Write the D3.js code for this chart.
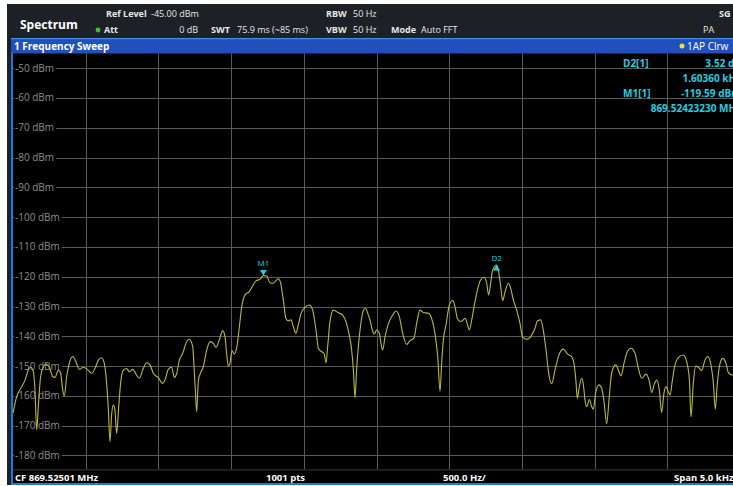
<!DOCTYPE html>
<html>
<head>
<meta charset="utf-8">
<script src="https://cdn.jsdelivr.net/npm/d3@7"></script>
<style>
  html, body { margin: 0; padding: 0; background: #ffffff; }
  svg { display: block; }
  text { font-family: "Open Sans", "Noto Sans", sans-serif; }
</style>
</head>
<body>
<svg id="chart" width="733" height="486"></svg>
<script>
// ---- instrument settings ----
const centerMHz = 869.52501;
const spanHz = 5000;
const refLevel = -45;
const levelRange = 140;          // dB shown from top to bottom of the diagram
const divHz = 500;
const sweepPoints = 1001;

// ---- level grid labels (dBm) ----
const levelTicks = [-50, -60, -70, -80, -90, -100, -110, -120, -130, -140, -150, -160, -170, -180];

// ---- trace 1: frequency offset from CF (Hz) and level (dBm) ----
const traceHz = [
  -2500,-2475,-2440,-2417,-2395,-2379,-2360,-2349,-2337,-2326,
  -2310,-2291,-2273,-2250,-2227,-2211,-2188,-2172,-2158,-2147,
  -2131,-2113,-2090,-2067,-2044,-2016,-1989,-1959,-1936,-1913,
  -1890,-1872,-1856,-1844,-1833,-1821,-1810,-1799,-1787,-1773,
  -1760,-1741,-1718,-1700,-1677,-1654,-1631,-1608,-1581,-1558,
  -1535,-1500,-1471,-1455,-1432,-1409,-1390,-1374,-1356,-1333,
  -1306,-1287,
  -1264,-1255,-1246,-1237,-1225,-1209,-1191,-1173,-1145,-1122,
  -1104,-1081,-1058,-1042,-1031,-1019,-1008,-994,-978,-962,
  -943,-927,-904,-875,-852,-829,-801,-777.7,-755,-733,
  -710,-691,-675,-659,-641,-623,-606,-588,-572,-554,
  -538,-519,-492,-462,-439,-416,-400,-377,-361,-347,
  -336,-320,-297,-263,-233,-205,-187,-171,-159,-148,
  -137,-125,-109,-91,-75,-56,
  -45,-26,-15,1,20,31,42,59,81,111,
  134,157,180,208,230,258,276,299,322,357,
  379,402,421,437,448,460,478,501,524,540,
  556,579,609,625,638,655,671,694,716,739,
  758,771,785,799,825.9,838,854,868,884,907,
  923,941,964,987,1005,1033,1067,1090,1108,1129,
  1147,1166,1186,1205,
  1228,1251,1285,1313,1342,1358,1372,1381,1395,1411,
  1423,1434,1446,1464,1480,1491,1507,1530,1549,1565,
  1583,1599,1617,1645,1663,1682,1702,1725,1750,1778,
  1801,1824,1854,1877,1893,1909,1927,1945,1961,1977,
  1991,2007,2019,2035,2053,2083,2110,2133,2152,2163,
  2179,2195,2214,2236,2259,2278,2298,2317,2330,2344,
  2363,2381,2404,2420,2443,2470,2500
];
const traceDbm = [
  -165.8,-160.3,-156.9,-154.7,-151.3,-150.4,-151.9,-158.0,-171.4,-163.6,
  -153.5,-150.2,-149.3,-150.4,-153.5,-153.8,-151.3,-152.4,-158.0,-160.0,
  -153.5,-149.1,-146.8,-148.5,-151.1,-150.4,-151.1,-152.4,-150.8,-148.0,
  -147.2,-149.1,-155.8,-164.7,-175.4,-165.9,-163.1,-164.7,-172.6,-163.6,
  -155.8,-151.3,-150.8,-151.9,-151.1,-152.7,-154.1,-151.3,-148.9,-149.6,
  -152.4,-153.9,-155.8,-154.7,-151.1,-150.4,-153.8,-152.4,-148.0,-145.7,
  -141.8,-141.0,
  -143.5,-150.2,-158.0,-165.3,-154.7,-152.2,-150.2,-145.7,-141.8,-142.4,
  -143.7,-141.2,-138.1,-140.1,-145.7,-150.0,-149.1,-144.9,-145.9,-144.0,
  -136.8,-130.1,-126.1,-125.0,-123.1,-121.4,-120.9,-119.59,-119.8,-122.0,
  -122.2,-121.3,-120.7,-122.2,-127.8,-134.0,-134.8,-134.5,-136.8,-139.0,
  -136.2,-132.3,-130.3,-129.5,-131.2,-137.9,-144.0,-145.2,-145.7,-148.9,
  -143.5,-135.1,-131.2,-132.1,-132.9,-135.9,-139.6,-144.6,-151.3,-160.6,
  -151.3,-143.5,-136.2,-131.4,-130.6,-132.9,
  -134.5,-138.4,-139.2,-137.9,-139.0,-142.4,-144.6,-140.1,-135.9,-132.9,
  -131.5,-133.4,-139.0,-142.7,-141.5,-140.6,-135.7,-131.2,-132.0,-132.3,
  -134.0,-139.0,-146.8,-158.4,-149.1,-141.2,-136.2,-129.5,-128.0,-130.1,
  -134.0,-135.1,-134.0,-135.9,-137.9,-134.5,-130.1,-124.5,-121.1,-120.2,
  -122.2,-126.1,-122.2,-117.8,-116.07,-117.8,-123.3,-128.0,-125.0,-122.2,
  -123.9,-127.8,-131.2,-135.7,-140.3,-141.0,-139.6,-137.3,-134.8,-134.5,
  -137.9,-144.6,-153.0,-155.9,
  -151.3,-146.8,-144.3,-145.9,-146.8,-149.1,-155.2,-160.8,-156.9,-154.1,
  -156.3,-161.4,-163.6,-161.2,-163.6,-164.5,-159.1,-156.3,-157.5,-161.9,
  -169.4,-161.4,-152.4,-149.6,-151.3,-153.3,-149.1,-145.2,-144.0,-145.7,
  -150.8,-154.1,-152.7,-155.2,-158.9,-156.3,-154.7,-158.0,-165.6,-159.1,
  -156.9,-158.6,-159.7,-154.7,-149.6,-146.8,-146.3,-148.5,-154.7,-167.0,
  -155.8,-150.0,-150.4,-151.5,-148.0,-146.8,-149.1,-155.8,-164.5,-155.8,
  -149.1,-147.4,-149.1,-152.2,-153.0,-152.5,-151.5
];

// ---- markers: M1 (normal) and D2 (delta to M1) ----
const markerNames = ["M1", "D2"];
const markerHz = [-777.7, 825.9];
const markerDbm = [-119.59, -116.07];

// ---- layout ----
const W = 733, H = 486;
const plot = { left: 13, right: 740, top: 53.2, bottom: 470.4 };
const svg = d3.select("#chart");

const x = d3.scaleLinear().domain([-spanHz / 2, spanHz / 2]).range([plot.left, plot.right]);
const y = d3.scaleLinear().domain([refLevel, refLevel - levelRange]).range([plot.top, plot.bottom]);

// window frame
svg.append("rect").attr("x", 0).attr("y", 0).attr("width", W).attr("height", H).attr("fill", "#ffffff");
svg.append("rect").attr("x", 7).attr("y", 4).attr("width", W - 7).attr("height", H - 4).attr("fill", "#1d2126");

// header panel
const hdr = svg.append("g").attr("font-size", 9).attr("fill", "#e6e6e6");
hdr.append("text").attr("x", 20).attr("y", 28.5).attr("font-size", 12).attr("font-weight", 700).attr("fill", "#ffffff").text("Spectrum");
const hdrItems = [
  { t: "Ref Level", x: 106, y: 17, b: true },
  { t: (refLevel).toFixed(2) + " dBm", x: 151, y: 17 },
  { t: "Att", x: 104, y: 33, b: true },
  { t: "0 dB", x: 198, y: 33, end: true },
  { t: "SWT", x: 211, y: 33, b: true },
  { t: "75.9 ms (~85 ms)", x: 237, y: 33 },
  { t: "RBW", x: 326, y: 17, b: true },
  { t: "50 Hz", x: 353, y: 17 },
  { t: "VBW", x: 326, y: 33, b: true },
  { t: "50 Hz", x: 353, y: 33 },
  { t: "Mode", x: 391, y: 33, b: true },
  { t: "Auto FFT", x: 421, y: 33 },
  { t: "SG", x: 719, y: 17, b: true },
  { t: "PA", x: 703, y: 33 }
];
hdr.selectAll("text.h").data(hdrItems).enter().append("text")
  .attr("class", "h")
  .attr("x", d => d.x).attr("y", d => d.y)
  .attr("font-weight", d => d.b ? 700 : 400)
  .attr("text-anchor", d => d.end ? "end" : "start")
  .text(d => d.t);
hdr.append("circle").attr("cx", 98).attr("cy", 30).attr("r", 2.4).attr("fill", "#3cc23c");

// sweep title bar
svg.append("rect").attr("x", 11).attr("y", 38).attr("width", W - 11).attr("height", 15.5).attr("fill", "#2150bd");
svg.append("rect").attr("x", 11).attr("y", 38).attr("width", W - 11).attr("height", 1.2).attr("fill", "#3f8fe8");
svg.append("text").attr("x", 14).attr("y", 50).attr("font-size", 10).attr("font-weight", 700).attr("fill", "#ffffff").text("1 Frequency Sweep");
svg.append("circle").attr("cx", 682).attr("cy", 46).attr("r", 2.5).attr("fill", "#f2e02a");
svg.append("text").attr("x", 687).attr("y", 50).attr("font-size", 10).attr("fill", "#ffffff").text("1AP Clrw");

// diagram area
svg.append("rect").attr("x", plot.left).attr("y", plot.top + 0.5).attr("width", W - plot.left).attr("height", plot.bottom - plot.top).attr("fill", "#000000");

svg.append("defs").append("clipPath").attr("id", "clip")
  .append("rect").attr("x", plot.left).attr("y", plot.top).attr("width", plot.right - plot.left).attr("height", plot.bottom - plot.top);

const grid = svg.append("g").attr("stroke", "#595959").attr("stroke-width", 1);
grid.selectAll("line.v").data(d3.range(-spanHz / 2 + divHz, spanHz / 2 + 1, divHz)).enter().append("line")
  .attr("x1", d => Math.round(x(d)) + 0.5).attr("x2", d => Math.round(x(d)) + 0.5)
  .attr("y1", plot.top).attr("y2", plot.bottom);
grid.selectAll("line.h").data(levelTicks).enter().append("line")
  .attr("x1", plot.left).attr("x2", plot.right)
  .attr("y1", d => Math.round(y(d)) + 0.5).attr("y2", d => Math.round(y(d)) + 0.5);

// level labels sit on the grid lines with a black backing
const lbl = svg.append("g").attr("font-size", 10).attr("fill", "#8e8e8e");
const lblG = lbl.selectAll("g").data(levelTicks).enter().append("g");
lblG.append("rect").attr("x", plot.left + 1).attr("y", d => y(d) - 5).attr("height", 10).attr("fill", "#000");
lblG.append("text").attr("x", 15).attr("y", d => y(d) + 3.5).text(d => d + " dBm");
lblG.each(function () {
  const g = d3.select(this);
  const bb = g.select("text").node().getBBox();
  g.select("rect").attr("width", bb.x + bb.width - plot.left + 1);
});

// trace
const pts = traceHz.map((f, i) => [f, traceDbm[i]]);
const line = d3.line().x(d => x(d[0])).y(d => y(d[1])).curve(d3.curveMonotoneX);
svg.append("path").datum(pts).attr("clip-path", "url(#clip)")
  .attr("fill", "none").attr("stroke", "#baba38").attr("stroke-width", 1.1)
  .attr("stroke-linejoin", "round").attr("d", line);

// marker symbols
const cyan = "#22cfe0";
markerNames.forEach((name, i) => {
  const mx = x(markerHz[i]), my = y(markerDbm[i]);
  if (name.startsWith("M")) {
    svg.append("path").attr("fill", cyan)
      .attr("d", `M${mx - 3.5},${my - 5.5} L${mx + 3.5},${my - 5.5} L${mx},${my} Z`);
    svg.append("text").attr("x", mx).attr("y", my - 9).attr("text-anchor", "middle")
      .attr("font-size", 8).attr("fill", cyan).text(name);
  } else {
    svg.append("path").attr("fill", cyan)
      .attr("d", `M${mx},${my} L${mx + 3.5},${my + 5.5} L${mx - 3.5},${my + 5.5} Z`);
    svg.append("text").attr("x", mx).attr("y", my - 4).attr("text-anchor", "middle")
      .attr("font-size", 8).attr("fill", cyan).text(name);
  }
});

// marker table (the readout column runs past the right edge of the window)
const deltaDb = markerDbm[1] - markerDbm[0];
const deltaHz = markerHz[1] - markerHz[0];
const m1MHz = centerMHz + markerHz[0] / 1e6;
const tab = svg.append("g").attr("font-size", 10).attr("font-weight", 700).attr("fill", cyan);
const tabRows = [
  { l: "D2[1]", v: deltaDb.toFixed(2) + " dB", y: 67 },
  { l: "", v: (deltaHz / 1000).toFixed(5) + " kHz", y: 82 },
  { l: "M1[1]", v: markerDbm[0].toFixed(2) + " dBm", y: 97 },
  { l: "", v: m1MHz.toFixed(8) + " MHz", y: 112 }
];
tabRows.forEach(r => {
  if (r.l) tab.append("text").attr("x", 623).attr("y", r.y).text(r.l);
  tab.append("text").attr("x", 741).attr("y", r.y).attr("text-anchor", "end").text(r.v);
});

// footer bar
svg.append("rect").attr("x", plot.left).attr("y", plot.bottom - 1).attr("width", W - plot.left).attr("height", 13.5).attr("fill", "#000");
svg.append("line").attr("x1", plot.left).attr("x2", W).attr("y1", plot.bottom - 0.5).attr("y2", plot.bottom - 0.5).attr("stroke", "#3a3a3a");
const foot = svg.append("g").attr("font-size", 9.5).attr("font-weight", 700).attr("fill", "#ffffff");
foot.append("text").attr("x", 15).attr("y", 481).text("CF " + centerMHz.toFixed(5) + " MHz");
foot.append("text").attr("x", 266).attr("y", 481).text(sweepPoints + " pts");
foot.append("text").attr("x", 443).attr("y", 481).text(divHz.toFixed(1) + " Hz/");
foot.append("text").attr("x", 674).attr("y", 481).text("Span " + (spanHz / 1000).toFixed(1) + " kHz");

// blue window border
svg.append("rect").attr("x", 11).attr("y", 53).attr("width", 2).attr("height", H - 53 - 1).attr("fill", "#1f78dc");
svg.append("rect").attr("x", 11).attr("y", 483).attr("width", W - 11).attr("height", 2).attr("fill", "#1f78dc");
svg.append("rect").attr("x", 0).attr("y", 485).attr("width", W).attr("height", 1).attr("fill", "#ffffff");
</script>
</body>
</html>
